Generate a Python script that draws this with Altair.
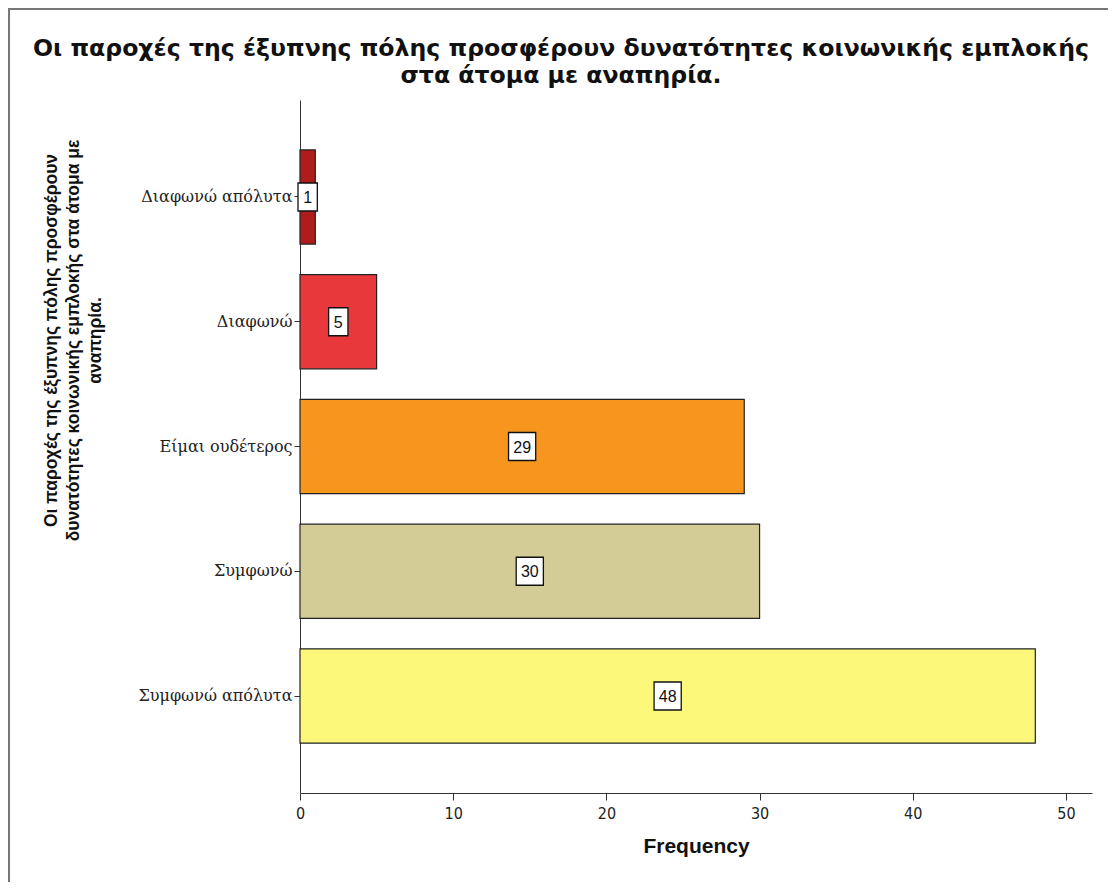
import altair as alt
import pandas as pd

categories = ["Διαφωνώ απόλυτα", "Διαφωνώ", "Είμαι ουδέτερος", "Συμφωνώ", "Συμφωνώ απόλυτα"]
frequencies = [1, 5, 29, 30, 48]
colors = ["#B01C1C", "#E8383C", "#F7961E", "#D4CC96", "#FCF97A"]

title_lines = ["Οι παροχές της έξυπνης πόλης προσφέρουν δυνατότητες κοινωνικής εμπλοκής",
               "στα άτομα με αναπηρία."]
y_title_lines = ["Οι παροχές της έξυπνης πόλης προσφέρουν",
                 "δυνατότητες κοινωνικής εμπλοκής στα άτομα με",
                 "αναπηρία."]
x_ticks = [0, 10, 20, 30, 40, 50]

df = pd.DataFrame({"cat": categories, "freq": frequencies})
df["half"] = df["freq"] / 2
df["digits"] = df["freq"].astype(str).str.len()

W, H = 792, 693

x_scale = alt.Scale(domain=[0, 51.7], nice=False, zero=True)
y_scale = alt.Scale(domain=categories, paddingInner=0.245, paddingOuter=0.4)

base = alt.Chart(df)

bars = base.mark_bar(stroke="#222222", strokeWidth=1.2).encode(
    x=alt.X("freq:Q", scale=x_scale,
            axis=alt.Axis(values=x_ticks, title="Frequency", grid=False,
                          domainColor="#333333", tickColor="#333333",
                          tickSize=7, labelPadding=5, labelFlush=False,
                          labelFont="DejaVu Sans Condensed", labelFontSize=16,
                          labelColor="#222222",
                          titleFont="Liberation Sans", titleFontSize=21,
                          titleFontWeight="bold", titlePadding=14,
                          titleColor="#111111")),
    y=alt.Y("cat:N", scale=y_scale, sort=categories,
            axis=alt.Axis(title=y_title_lines, grid=False,
                          domainColor="#333333", tickColor="#333333",
                          tickSize=6, labelPadding=2,
                          labelFont="DejaVu Serif", labelFontSize=16,
                          labelColor="#222222",
                          titleFont="Liberation Sans", titleFontSize=17.5,
                          titleFontWeight="bold", titleColor="#111111",
                          titleAngle=270, titleAlign="center",
                          titleBaseline="top", titleLineHeight=22,
                          titleX=-258, titleY=240)),
    color=alt.Color("cat:N", scale=alt.Scale(domain=categories, range=colors),
                    legend=None),
)

box_two = "M-0.97,-1L0.97,-1L0.97,1L-0.97,1Z"
box_one = "M-0.69,-1L0.69,-1L0.69,1L-0.69,1Z"

boxes = base.mark_point(filled=True, fill="white", stroke="#111111",
                        strokeWidth=1.3, opacity=1, size=28 * 28).encode(
    x=alt.X("half:Q", scale=x_scale),
    y=alt.Y("cat:N", scale=y_scale, sort=categories),
    shape=alt.Shape("digits:O",
                    scale=alt.Scale(domain=[1, 2], range=[box_one, box_two]),
                    legend=None),
)

labels = base.mark_text(font="Liberation Sans", fontSize=16, color="#111111",
                        baseline="middle", align="center", dy=1).encode(
    x=alt.X("half:Q", scale=x_scale),
    y=alt.Y("cat:N", scale=y_scale, sort=categories),
    text=alt.Text("freq:Q"),
)

border = alt.Chart(pd.DataFrame({"a": [0]})).mark_rect(
    fill=None, stroke="#777777", strokeWidth=2).encode(
    x=alt.value(-291), x2=alt.value(W + 19),
    y=alt.value(-91), y2=alt.value(H + 110),
)

chart = alt.layer(border, bars, boxes, labels).properties(
    width=W, height=H,
    background="white",
    title=alt.TitleParams(text=title_lines, font="DejaVu Sans", fontSize=23.6,
                          fontWeight="bold", color="#111111", anchor="middle",
                          dx=-135, offset=-80, lineHeight=27),
    autosize=alt.AutoSizeParams(type="none"),
    padding={"left": 292, "top": 92, "right": 16, "bottom": 89},
).configure_view(stroke="transparent", strokeWidth=0)

chart.save("out.html", embed_options={"renderer": "svg", "actions": False})
